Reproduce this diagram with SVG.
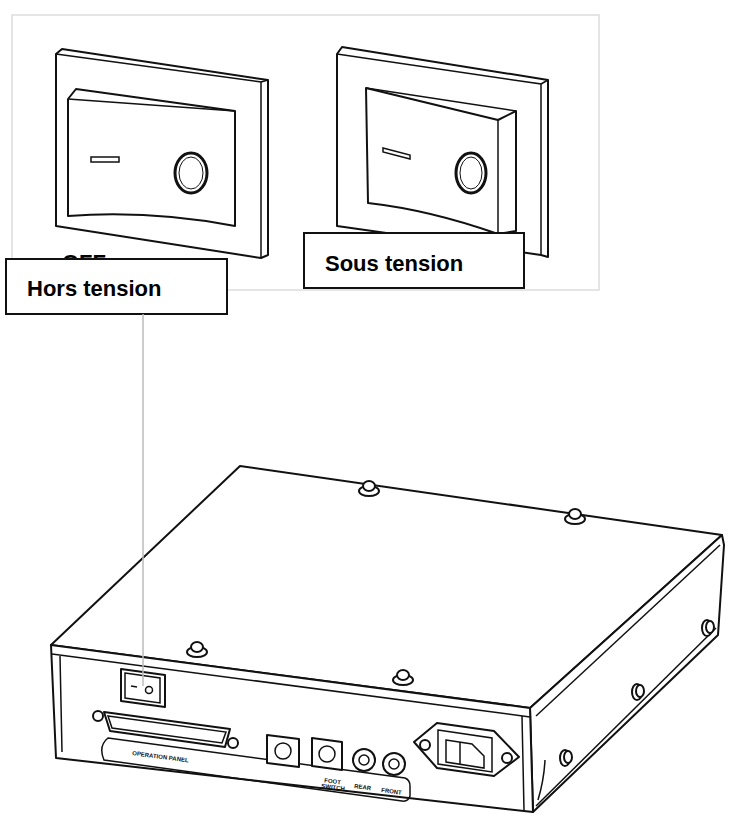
<svg xmlns="http://www.w3.org/2000/svg" width="740" height="820" viewBox="0 0 740 820">
<style>
.l{fill:#fff;stroke:#111;stroke-width:2;stroke-linejoin:round}
.t{fill:none;stroke:#111;stroke-width:1.5}
.lbl{font-family:"Liberation Sans",Arial,sans-serif;font-weight:bold;font-size:22px;fill:#000}
.sm{font-family:"Liberation Sans",Arial,sans-serif;font-weight:bold;font-size:6px;fill:#111}
</style>
<rect width="740" height="820" fill="#fff"/>
<rect x="12" y="15" width="587" height="275" fill="none" stroke="#ddd" stroke-width="1.5"/>
<g id="switch-off">
<polygon class="l" points="56,54 62,49 268,80 268,255 261,258 56,226"/>
<polyline class="t" points="56,54 261,82 261,258"/>
<line class="t" x1="261" y1="82" x2="268" y2="80"/>
<path class="l" d="M68,99 L76,89 L235,111 L235,226 Q150,210 68,216 Z"/>
<line class="t" x1="68" y1="99" x2="235" y2="111"/>
<rect x="91" y="157" width="28" height="5" fill="#fff" stroke="#111" stroke-width="1.5"/>
<ellipse cx="191" cy="173" rx="16" ry="20" fill="none" stroke="#111" stroke-width="3"/>
<ellipse cx="191" cy="173" rx="12" ry="16" fill="none" stroke="#111" stroke-width="1"/>
<text x="62" y="270" class="lbl" font-size="16">OFF</text>
</g>
<g id="switch-on">
<polygon class="l" points="337,54 342,47 548,80 548,257 541,255 337,226"/>
<polyline class="t" points="337,54 541,84 541,255"/>
<line class="t" x1="541" y1="84" x2="548" y2="80"/>
<path class="l" d="M366,88 L498,120 L516,111 L516,231 L498,234 Q430,210 368,203 Z"/>
<polyline class="t" points="366,88 516,111"/>
<line class="t" x1="498" y1="120" x2="498" y2="234"/>
<polygon points="383,148 410,155 410,159 383,152" fill="#fff" stroke="#111" stroke-width="1.5"/>
<ellipse cx="471" cy="173" rx="15" ry="20" fill="none" stroke="#111" stroke-width="3"/>
<ellipse cx="471" cy="173" rx="11" ry="16" fill="none" stroke="#111" stroke-width="1"/>
</g>
<g id="label-on">
<rect x="304" y="233" width="220" height="55" fill="#fff" stroke="#111" stroke-width="2"/>
<text x="325" y="271" class="lbl">Sous tension</text>
</g>
<g id="label-off">
<rect x="6" y="259" width="221" height="55" fill="#fff" stroke="#111" stroke-width="2"/>
<text x="27" y="296" class="lbl">Hors tension</text>
</g>
<g id="device">
<polygon class="l" points="240,466 722,535 530,708 51,645"/>
<polygon class="l" points="530,708 722,535 724,545 718,635 533,812"/>
<polyline class="t" points="536,716 720,545"/>
<polyline class="t" points="536,806 716,628"/>
<path class="t" d="M538,800 Q544,780 545,760"/>
<polygon class="l" points="51,645 530,708 533,812 56,758"/>
<polyline class="t" points="52,654 530,717"/>
<line class="t" x1="522" y1="716" x2="524" y2="810"/>
<line class="t" x1="60" y1="656" x2="62" y2="752"/>
<g fill="#fff" stroke="#111" stroke-width="2">
<ellipse cx="369" cy="491" rx="10" ry="5"/><ellipse cx="369" cy="486" rx="6" ry="5"/>
<ellipse cx="575" cy="519" rx="10" ry="5"/><ellipse cx="575" cy="514" rx="6" ry="5"/>
<ellipse cx="197" cy="652" rx="10" ry="5"/><ellipse cx="197" cy="647" rx="6" ry="5"/>
<ellipse cx="403" cy="680" rx="10" ry="5"/><ellipse cx="403" cy="675" rx="6" ry="5"/>
<ellipse cx="707" cy="628" rx="5" ry="8"/><ellipse cx="710" cy="627" rx="4" ry="6"/>
<ellipse cx="637" cy="692" rx="5" ry="8"/><ellipse cx="640" cy="691" rx="4" ry="6"/>
<ellipse cx="565" cy="758" rx="5" ry="8"/><ellipse cx="568" cy="757" rx="4" ry="6"/>
</g>
<polygon class="l" points="121,669 165,675 165,707 121,701" stroke-width="3"/>
<polygon class="t" points="125,673 160,678 160,703 125,698"/>
<line class="t" x1="131" y1="686" x2="137" y2="687"/>
<circle cx="149" cy="690" r="3.5" class="t"/>
<path class="t" d="M108,738 L405,778 Q410,780 410,786 L410,796 Q408,802 402,801 L104,760 Q98,746 108,738 Z"/>
<text class="sm" transform="translate(132,755) rotate(7.5)">OPERATION PANEL</text>
<polygon class="l" points="104,712 230,729 225,747 110,731"/>
<polygon class="t" points="108,716 226,732 222,743 112,728"/>
<circle cx="98" cy="716" r="5" class="l"/>
<circle cx="233" cy="743" r="5" class="l"/>
<polygon class="l" points="267,735 299,739 299,767 267,763"/>
<circle cx="283" cy="751" r="8" class="t"/>
<polygon class="l" points="312,738 342,742 342,770 312,766"/>
<circle cx="327" cy="754" r="8" class="t"/>
<circle cx="364" cy="760" r="11" class="l"/><circle cx="364" cy="760" r="5" class="t"/>
<circle cx="394" cy="764" r="11" class="l"/><circle cx="394" cy="764" r="5" class="t"/>
<text class="sm" x="324" y="783" font-size="4.5" transform="rotate(7.5 330 783)">FOOT</text>
<text class="sm" x="321" y="789" font-size="4.5" transform="rotate(7.5 330 789)">SWITCH</text>
<text class="sm" transform="translate(354,788) rotate(7.5)">REAR</text>
<text class="sm" transform="translate(381,792) rotate(7.5)">FRONT</text>
<path class="l" d="M414,742 L437,723 L494,731 L519,757 L494,776 L437,768 Z"/>
<polygon class="t" points="438,730 492,738 492,772 438,764" stroke-width="2"/>
<polygon class="t" points="446,740 472,744 484,756 484,768 446,762"/>
<line class="t" x1="460" y1="742" x2="460" y2="764"/>
<circle cx="425" cy="745" r="5" class="l"/>
<circle cx="507" cy="758" r="5" class="l"/>
</g>
<g id="connectors">
<line x1="143" y1="314" x2="143" y2="686" stroke="#bbb" stroke-width="1.5"/>
</g>
</svg>
